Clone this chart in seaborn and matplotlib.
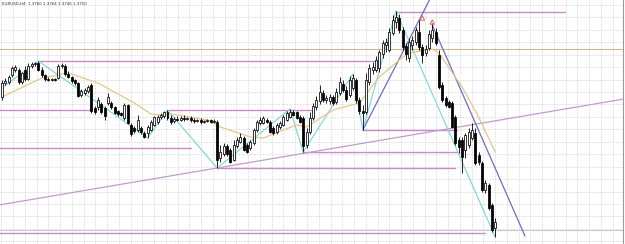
import numpy as np
import pandas as pd
import matplotlib
matplotlib.use("Agg")
import matplotlib.pyplot as plt
import seaborn as sns

sns.set_theme(style="white")
plt.rcParams['font.family'] = ['DejaVu Sans']

# candles (price level, higher = up)
opens = [147, 161, 162, 169, 174, 174, 162, 174, 165, 178, 180, 181, 174, 169, 165, 164, 165, 166, 178, 178,
         170, 167, 164, 161, 149, 151, 153, 159, 136, 137, 140, 136, 141, 141, 137, 133, 131, 126, 139, 119,
         116, 114, 116, 111, 111, 114, 119, 122, 127, 128, 132, 126, 123, 125, 124, 126, 125, 126, 124, 123,
         124, 122, 123, 124, 122, 122, 86, 90, 98, 94, 84, 98, 102, 106, 99, 96, 101, 114, 121, 121,
         124, 122, 116, 112, 117, 119, 124, 127, 132, 132, 127, 126, 99, 112, 126, 137, 143, 151, 144, 143,
         147, 142, 151, 160, 154, 149, 156, 164, 144, 133, 132, 162, 174, 174, 176, 190, 199, 194, 211, 222,
         226, 214, 198, 186, 199, 202, 212, 197, 191, 196, 206, 212, 189, 159, 146, 142, 141, 127, 104, 104,
         94, 99, 106, 111, 89, 81, 54, 59, 39, 16]
closes = [161, 163, 167, 176, 177, 162, 171, 165, 178, 180, 181, 174, 169, 165, 164, 165, 164, 178, 179, 170,
          167, 163, 161, 148, 153, 154, 157, 133, 132, 144, 132, 128, 147, 137, 131, 130, 129, 139, 121, 110,
          113, 124, 112, 107, 117, 122, 127, 127, 129, 132, 126, 122, 125, 124, 126, 125, 126, 124, 123, 124,
          122, 123, 124, 122, 123, 84, 92, 98, 90, 82, 99, 104, 107, 94, 92, 102, 114, 122, 124, 126,
          122, 112, 111, 119, 121, 127, 131, 132, 129, 126, 122, 98, 112, 126, 138, 144, 152, 144, 146, 147,
          141, 152, 162, 154, 145, 164, 166, 144, 133, 131, 164, 176, 177, 184, 192, 201, 202, 212, 224, 227,
          214, 197, 190, 202, 204, 214, 197, 189, 195, 210, 214, 201, 157, 144, 139, 137, 117, 101, 97, 87,
          109, 112, 114, 81, 82, 54, 61, 36, 14, 22]
highs = [164, 166, 169, 178, 179, 176, 172, 178, 181, 182, 182, 183, 177, 170, 167, 166, 166, 180, 181, 180,
         173, 168, 165, 162, 155, 156, 159, 161, 138, 147, 142, 138, 151, 143, 138, 134, 132, 141, 140, 121,
         118, 129, 118, 113, 119, 124, 128, 129, 131, 133, 134, 129, 127, 128, 128, 129, 127, 128, 126, 125,
         126, 124, 125, 125, 125, 124, 99, 101, 100, 96, 104, 107, 111, 108, 101, 104, 116, 124, 127, 128,
         126, 124, 118, 121, 123, 129, 133, 135, 134, 133, 129, 128, 116, 132, 141, 148, 159, 154, 149, 150,
         149, 156, 167, 164, 158, 168, 170, 166, 147, 139, 171, 180, 182, 188, 194, 204, 206, 216, 229, 233,
         230, 217, 201, 206, 208, 217, 224, 200, 199, 214, 221, 216, 194, 162, 148, 144, 143, 129, 107, 107,
         111, 116, 121, 116, 92, 83, 64, 61, 41, 26]
lows = [144, 159, 160, 167, 172, 160, 160, 163, 164, 176, 178, 173, 167, 163, 163, 163, 163, 165, 176, 168,
        166, 161, 159, 147, 147, 149, 151, 131, 130, 134, 130, 124, 139, 135, 130, 128, 128, 124, 120, 108,
        111, 112, 110, 106, 106, 113, 118, 120, 125, 126, 124, 120, 121, 123, 123, 123, 124, 122, 121, 122,
        120, 121, 122, 121, 121, 76, 82, 88, 88, 81, 83, 96, 101, 93, 91, 94, 99, 112, 119, 120,
        121, 111, 109, 110, 115, 118, 123, 126, 128, 125, 121, 92, 96, 110, 124, 134, 140, 142, 141, 140,
        139, 140, 149, 152, 143, 147, 154, 141, 130, 114, 130, 159, 170, 172, 172, 186, 192, 192, 209, 216,
        211, 194, 184, 182, 194, 199, 194, 181, 188, 194, 202, 199, 155, 142, 137, 136, 116, 99, 91, 71,
        86, 96, 104, 79, 79, 52, 51, 34, 12, 7]

# moving average
ma_x = [0, 12, 20, 29, 40, 45, 48, 51, 62, 66, 75, 79, 85, 89, 92, 100, 108, 114, 120, 123, 130, 132, 139, 144, 149]
ma_y = [147, 166, 171, 161, 141, 130, 129, 130, 124, 117, 107, 106, 114, 119, 117, 134, 141, 167, 184, 191, 195, 191, 157, 127, 92]

# zigzag
zz_x = [0, 11, 44, 50, 65, 87, 91, 106, 109, 119, 149]
zz_y = [156, 183, 106, 134, 76, 135, 92, 170, 114, 233, 7]

# horizontal levels
hl_start = [119, 11, -1, 50, 109, -1, 91, 65, -1]
hl_end = [170, 114, 27, 94, 137.5, 57, 137.5, 137, 146]
hl_level = [232.5, 183, 134, 134, 114, 96, 92, 76, 11.5]

ma_level_line = 195
bid_line = 14

long_trend = [(65, 76), (91, 90.6)]
up_trend_x = [109, 131]
up_trend_y = [114, 256]
down_trend_x = [130, 158]
down_trend_y = [219, 8]

fractal_x = [127, 130]
fractal_y = [226, 222]

title = "EURUSD,H4  1.3760 1.3764 1.3746 1.3750"

df = pd.DataFrame({'open': opens, 'high': highs, 'low': lows, 'close': closes})
df['idx'] = np.arange(len(df))

fig = plt.figure(figsize=(6.25, 2.44), dpi=100)
ax = fig.add_axes([0, 0, 623 / 625, 1])

px = 3.31
x0 = -2 / px

# grid
gx = x0 + (13 + 11.76 * np.arange(-1, 54)) / px
gy = 244 - (4.8 + 12.45 * np.arange(0, 20))
ax.set_xticks(gx)
ax.set_yticks(gy)
ax.set_xticklabels([])
ax.set_yticklabels([])
ax.tick_params(length=0)
ax.grid(True, color='#d6d6d6', linestyle=(0, (2, 1.5)), linewidth=0.55)
ax.set_xlim(x0, x0 + 623 / px)
ax.set_ylim(0, 244)

for s in ['top', 'left', 'bottom']:
    ax.spines[s].set_visible(False)
ax.spines['right'].set_color('#9a9a9a')
ax.spines['right'].set_linewidth(0.8)

ax.axhline(ma_level_line, color='#cdb88e', lw=0.8, zorder=1)
ax.axhline(bid_line, color='#c8c8c8', lw=0.8, zorder=1)

for a, b, lv in zip(hl_start, hl_end, hl_level):
    ax.plot([a, b], [lv, lv], color='#c68cc6', lw=1.0, zorder=2)

ax.axline(long_trend[0], long_trend[1], color='#c29ccc', lw=0.9, zorder=2)
ax.plot(up_trend_x, up_trend_y, color='#6e6ec4', lw=0.9, zorder=2)
ax.plot(down_trend_x, down_trend_y, color='#6e6ec4', lw=0.9, zorder=2)

sns.lineplot(x=zz_x, y=zz_y, ax=ax, color='#86d8d8', lw=0.9, zorder=2, sort=False)
sns.lineplot(x=ma_x, y=ma_y, ax=ax, color='#e6c68e', lw=0.9, zorder=2, sort=False)

# candles
ax.vlines(df['idx'], df['low'], df['high'], color='black', lw=0.6, zorder=3)
bull = df['close'] >= df['open']
body_lo = df[['open', 'close']].min(axis=1)
body_h = (df['close'] - df['open']).abs().clip(lower=0.8)
ax.bar(df['idx'], body_h, bottom=body_lo, width=0.6,
       color=np.where(bull, 'white', 'black'), edgecolor='black', linewidth=0.55, zorder=4)

ax.scatter(fractal_x, fractal_y, marker='^', s=10, facecolors='none', edgecolors='#e06060', linewidths=0.7, zorder=5)

ax.text(0.004, 0.992, title, transform=ax.transAxes, fontsize=2.9, va='top', ha='left', color='#333333')

fig.savefig('out.png', dpi=100)
